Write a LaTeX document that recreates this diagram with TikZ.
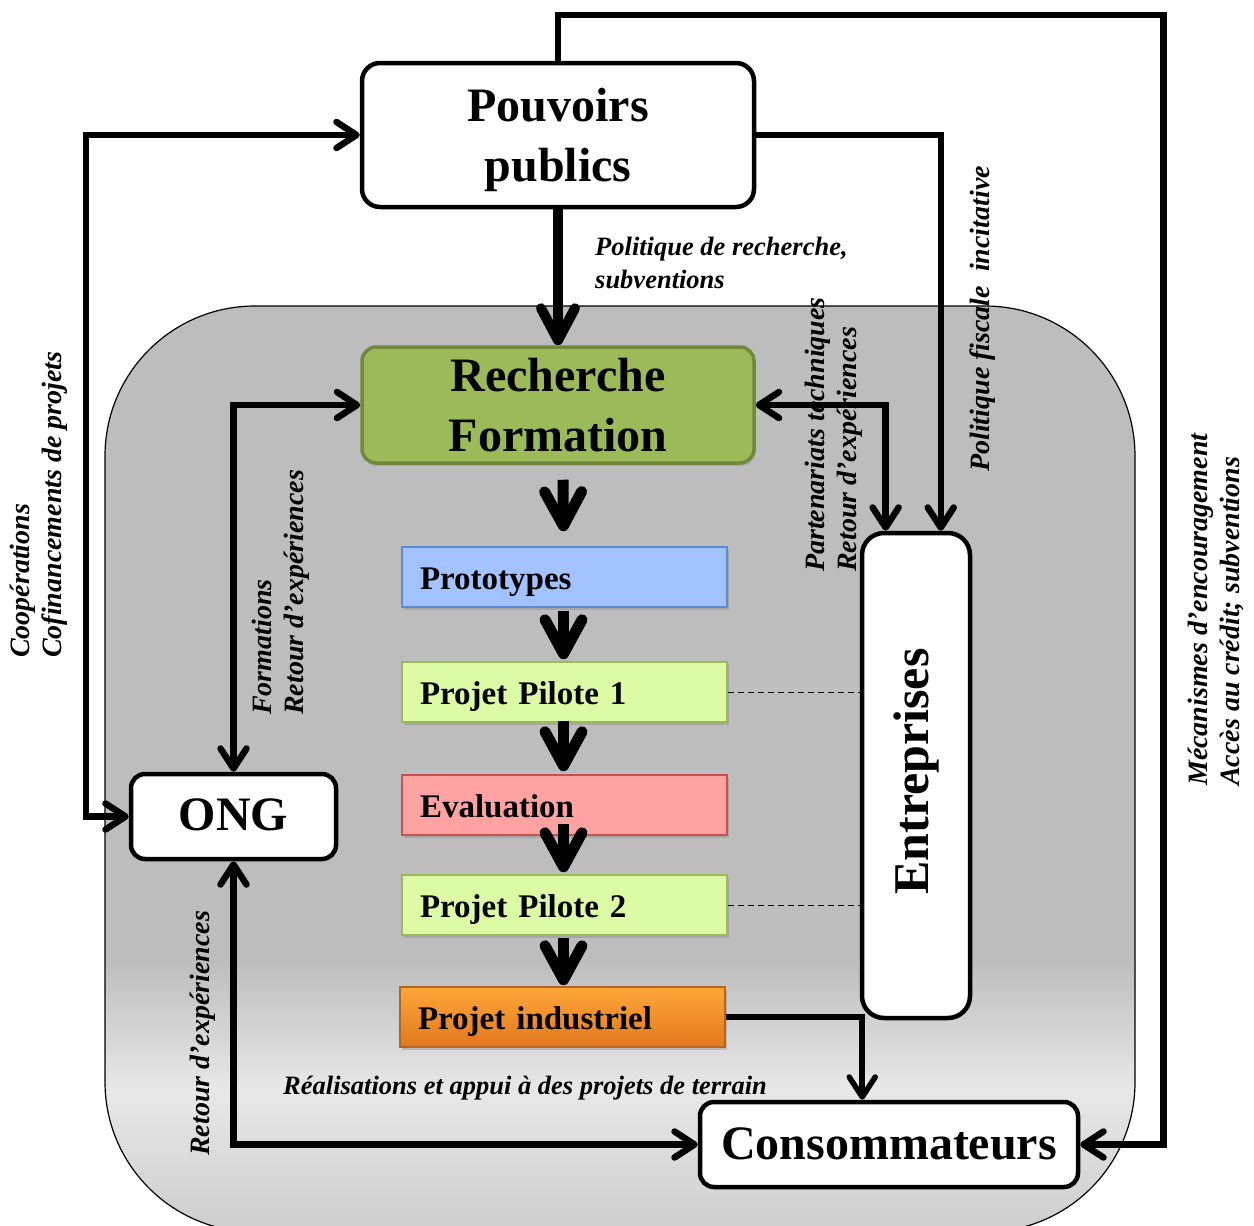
\documentclass[tikz,border=0pt]{standalone}
\usepackage{fontspec}
\setmainfont{Liberation Serif}
\usetikzlibrary{arrows.meta,calc,shadows}
\definecolor{regiongray}{HTML}{BDBDBD}
\definecolor{regionlight}{HTML}{E8E8E8}
\definecolor{regionbot}{HTML}{CDCDCD}
\definecolor{rfFill}{HTML}{9BBB59}
\definecolor{rfDraw}{HTML}{71893F}
\definecolor{protoFill}{HTML}{A2C3FF}
\definecolor{protoDraw}{HTML}{5B8CD6}
\definecolor{pilFill}{HTML}{DBFCA5}
\definecolor{pilDraw}{HTML}{9BBB59}
\definecolor{evFill}{HTML}{FFA2A2}
\definecolor{evDraw}{HTML}{C8504D}
\definecolor{indTop}{HTML}{FFA739}
\definecolor{indBot}{HTML}{E0781C}
\definecolor{indDraw}{HTML}{B7651D}
\newcommand\bigbold{\fontsize{48}{60}\selectfont\bfseries}
\newcommand\stepfont{\fontsize{33}{36}\selectfont\bfseries}
\newcommand\lblfont{\fontsize{26.5}{33}\selectfont\bfseries\itshape}
\newcommand\rlblfont{\fontsize{28}{32}\selectfont\bfseries\itshape}
\begin{document}
\begin{tikzpicture}[x=1pt,y=-1pt,
  >={Straight Barb[length=20pt,width=26pt,round]},
  whitebox/.style={draw, fill=white, line width=4.5pt, rounded corners=18pt, align=center, inner sep=0pt},
  stepbox/.style={draw, line width=1.5pt, minimum width=325pt, minimum height=60pt,
     text width=289pt, inner xsep=18pt, inner ysep=0pt, align=left, font=\stepfont,
     text height=28pt, text depth=4pt,
     drop shadow={shadow xshift=1.5pt, shadow yshift=-3pt, opacity=0.35}},
  conn/.style={line width=6.5pt},
  bigflow/.style={line width=11pt, -{Straight Barb[length=34pt,width=37pt,round]}},
  lbl/.style={font=\lblfont, inner sep=0pt, align=left},
  rlbl/.style={font=\rlblfont, inner sep=0pt, align=left, rotate=90, anchor=west}
]
\useasboundingbox (0,0) rectangle (1254,1226);

% background region
\begin{scope}
  \clip[rounded corners=150pt] (105,306) rectangle (1135,1232);
  \fill[regiongray] (105,306) rectangle (1135,1232);
  \shade[top color=regiongray, bottom color=regionlight] (105,960) rectangle (1135,1090);
  \shade[top color=regionlight, bottom color=regionbot] (105,1090) rectangle (1135,1232);
\end{scope}
\draw[line width=1.2pt, rounded corners=150pt] (105,306) rectangle (1135,1232);

% main nodes
\node[whitebox, minimum width=392pt, minimum height=144pt, font=\bigbold, text depth=0pt] (pp) at (558,135) {Pouvoirs\\publics};
\node[draw=rfDraw, fill=rfFill, line width=3.5pt, rounded corners=14pt, minimum width=392pt, minimum height=116pt,
      align=center, inner sep=0pt, font=\bigbold,
      drop shadow={shadow xshift=1.5pt, shadow yshift=-3pt, opacity=0.3}] (rf) at (558,405) {Recherche\\Formation};
\node[whitebox, minimum width=108pt, minimum height=485pt, rounded corners=22pt,
      label={[rotate=90, font=\fontsize{50}{60}\selectfont\bfseries, xshift=4pt]center:Entreprises}] (ent) at (916,775.5) {};
\node[whitebox, minimum width=205pt, minimum height=85pt, rounded corners=14pt, font=\bigbold, text depth=4pt] (ong) at (233.5,816.5) {ONG};
\node[whitebox, minimum width=378pt, minimum height=85pt, rounded corners=14pt, font=\bigbold, text depth=2pt] (cons) at (889,1144.5) {Consommateurs};

% chain of steps
\node[stepbox, draw=protoDraw, fill=protoFill] (proto) at (564.5,577) {Prototypes};
\node[stepbox, draw=pilDraw, fill=pilFill] (pp1) at (564.5,692) {Projet Pilote 1};
\node[stepbox, draw=evDraw, fill=evFill] (eval) at (564.5,805) {Evaluation};
\node[stepbox, draw=pilDraw, fill=pilFill] (pp2) at (564.5,905) {Projet Pilote 2};
\node[stepbox, draw=indDraw, top color=indTop, bottom color=indBot] (ind) at (562.5,1017) {Projet industriel};

% big flow arrows
\draw[bigflow] ($(rf.south)+(5,15)$) -- ($(proto.north)+(-1,-15)$);
\draw[bigflow] ($(proto.south)+(-1,3)$) -- ($(pp1.north)+(-1,-2)$);
\draw[bigflow] ($(pp1.south)+(-1,-2)$) -- ($(eval.north)+(-1,-3)$);
\draw[bigflow] ($(eval.south)+(-1,-12)$) -- ($(pp2.north)+(-1,-2)$);
\draw[bigflow] ($(pp2.south)+(-1,2)$) -- ($(ind.north)+(1,-1)$);

% dashed links
\draw[dashed, line width=1pt, dash pattern=on 6pt off 4pt] (pp1.east) -- (pp1.east -| ent.west);
\draw[dashed, line width=1pt, dash pattern=on 6pt off 4pt] (pp2.east) -- (pp2.east -| ent.west);

% connectors
\draw[line width=10pt, -{Straight Barb[length=32pt,width=34pt,round]}] (pp.south) -- (rf.north);
\draw[conn, <->] (pp.west) -- ++(-274,0) |- (ong.west);
\draw[conn, ->] (pp.north) -- ++(0,-46) -| ($(cons.east)+(83,0)$) -- (cons.east);
\draw[conn, ->] (pp.east) -| ($(ent.north west)!0.72!(ent.north east)$);
\draw[conn, <->] (rf.east) -| ($(ent.north west)!0.23!(ent.north east)$);
\draw[conn, <->] (rf.west) -| (ong.north);
\draw[conn, <->] (ong.south) |- (cons.west);
\draw[line width=5.5pt, ->] (ind.east) -| ($(cons.north west)!0.43!(cons.north east)$);

% labels
\node[lbl, anchor=base west] (l1) at (595,288) {Politique de recherche,\\subventions};
\node[rlbl] (l2) at (983,472) {Politique fiscale\ \ incitative};
\node[rlbl] (l3) at (834,572) {Partenariats techniques\\Retour d’expériences};
\node[rlbl] (l4) at (281,715) {Formations\\Retour d’expériences};
\node[rlbl] (l5) at (38.5,658) {Coopérations\\Cofinancements de projets};
\node[rlbl] (l6) at (203,1156) {Retour d’expériences};
\node[rlbl] (l7) at (1216,786) {Mécanismes d’encouragement\\Accès au crédit; subventions};
\node[lbl, anchor=base west] (l8) at (283,1094) {Réalisations et appui à des projets de terrain};
\end{tikzpicture}
\end{document}
